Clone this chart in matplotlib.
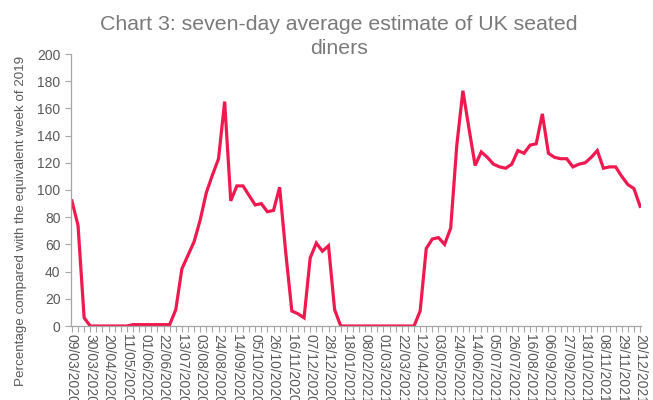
import numpy as np
import pandas as pd
import matplotlib
matplotlib.use("Agg")
import matplotlib.pyplot as plt

plt.rcParams['font.family'] = ['Liberation Sans', 'DejaVu Sans']

# weekly points, Monday of each week
weeks = pd.date_range('2020-03-09', periods=94, freq='7D')
week_labels = [d.strftime('%d/%m/%Y') for d in weeks]

diners = [92, 74, 6, 0, 0, 0, 0, 0, 0, 0,
          1, 1, 1, 1, 1, 1, 1, 12, 42, 52,
          62, 78, 98, 111, 123, 165, 92, 103, 103, 96,
          89, 90, 84, 85, 102, 54, 11, 9, 6, 50,
          61, 55, 59, 12, 0, 0, 0, 0, 0, 0,
          0, 0, 0, 0, 0, 0, 0, 11, 57, 64,
          65, 60, 72, 133, 173, 145, 118, 128, 124, 119,
          117, 116, 119, 129, 127, 133, 134, 156, 127, 124,
          123, 123, 117, 119, 120, 124, 129, 116, 117, 117,
          110, 104, 101, 88]

title_lines = ["Chart 3: seven-day average estimate of UK seated", "diners"]
ylabel = "Percentage compared with the equivalent week of 2019"

text_col = '#595959'
title_col = '#7a7a7a'
axis_col = '#A6A6A6'
line_col = '#F0194F'

fig = plt.figure(figsize=(6.53, 4.0), dpi=100)
ax = fig.add_axes([71/653, 1-326/400, 570/653, 272/400])

x = np.arange(len(diners))
ax.plot(x, diners, color=line_col, lw=2.3, solid_joinstyle='miter')

ax.set_ylim(0, 200)
ax.set_yticks(range(0, 201, 20))
ax.set_xlim(-0.15, len(diners) - 1 + 0.15)
ax.set_xticks(x)
ax.set_xticklabels([lab if i % 3 == 0 else '' for i, lab in enumerate(week_labels)],
                   rotation=-90, fontsize=10, color=text_col)
ax.tick_params(axis='y', labelsize=10, colors=text_col, length=4, width=0.8, color=axis_col)
ax.tick_params(axis='x', length=4, width=0.8, color=axis_col, pad=2)
for lab in ax.get_yticklabels():
    lab.set_color(text_col)

for s in ['top', 'right']:
    ax.spines[s].set_visible(False)
for s in ['left', 'bottom']:
    ax.spines[s].set_color(axis_col)
    ax.spines[s].set_linewidth(0.9)

ax.set_ylabel(ylabel, fontsize=9.6, color=text_col)
ax.yaxis.set_label_coords(-0.077, 0.385)

# two-line title, baselines placed separately
for i, line in enumerate(title_lines):
    fig.text(339 / 653, 1 - (30.5 + 23 * i) / 400, line, ha='center', va='baseline',
             fontsize=15.3, color=title_col)

fig.savefig('out.png', dpi=100)
